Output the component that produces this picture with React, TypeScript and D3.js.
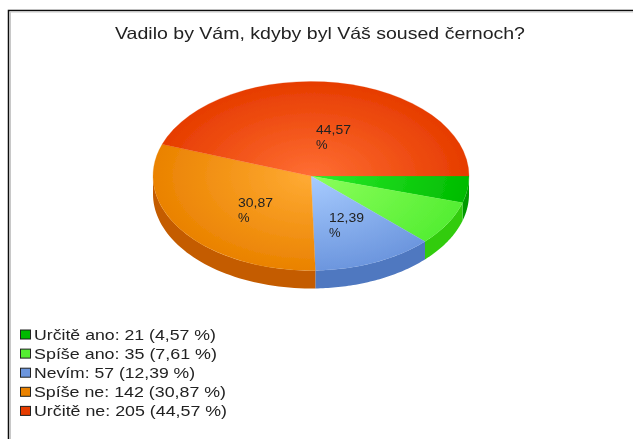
import React from "react";
import * as d3 from "d3";

const categories = ["Určitě ano", "Spíše ano", "Nevím", "Spíše ne", "Určitě ne"];
const counts = [21, 35, 57, 142, 205];
const percentLabels = ["4,57", "7,61", "12,39", "30,87", "44,57"];
const lightColors = ["#2cee2c", "#8cff5c", "#a8ccff", "#ffab34", "#ff6e34"];
const topColors = ["#00bb00", "#55ee33", "#6c96de", "#ea8200", "#e63c00"];
const sideColors = ["#009900", "#33cc11", "#4f78c0", "#c45c00", "#c03000"];
const title = "Vadilo by Vám, kdyby byl Váš soused černoch?";

const W = 633, H = 439;
const cx = 311, cy = 176, rx = 158, ry = 94.5, depth = 18;
const legendWidths = [182, 183, 161, 192, 193];

const pie = d3.pie<number>().sort(null).startAngle(Math.PI / 2).endAngle(Math.PI / 2 + 2 * Math.PI);
const arcs = pie(counts);
const arcGen = d3.arc<d3.PieArcDatum<number>>().innerRadius(0).outerRadius(rx);
const yScale = ry / rx;
// d3 angles run clockwise from 12 o'clock
const pt = (a: number, dy = 0): [number, number] => [Math.sin(a) * rx, -Math.cos(a) * ry + dy];
const line = d3.line();

function wallPath(start: number, end: number) {
  const s = Math.max(start, Math.PI / 2);
  const e = Math.min(end, 1.5 * Math.PI);
  if (e <= s) return null;
  const n = 48;
  const as = d3.range(n + 1).map((i) => s + ((e - s) * i) / n);
  const pts = [...as.map((a) => pt(a)), ...as.reverse().map((a) => pt(a, depth))];
  return line(pts) + "Z";
}

const labelPos: [number, number][] = [[0, 0], [0, 0], [329, 222], [238, 207], [316, 134]];

export default function App() {
  return (
    <svg width={W} height={H} style={{ position: "absolute", left: 0, top: 0, background: "#fff" }}
      fontFamily="'Liberation Sans', Arial, sans-serif">
      <defs>
        <filter id="soft" x="-5%" y="-5%" width="110%" height="110%">
          <feGaussianBlur stdDeviation="0.45" />
        </filter>
        {categories.map((_, i) => (
          <radialGradient key={i} id={`g${i}`} gradientUnits="userSpaceOnUse" cx={0} cy={0} r={rx}>
            <stop offset="0" stopColor={lightColors[i]} />
            <stop offset="1" stopColor={topColors[i]} />
          </radialGradient>
        ))}
      </defs>
      <g filter="url(#soft)">
        <path d={`M8.5 ${H}V10.5H${W}`} fill="none" stroke="#111" strokeWidth={1.5} />
        <path d={`M10.5 ${H}V12H${W}`} fill="none" stroke="#c8c8c8" strokeWidth={1} />
        <g transform={`translate(${cx},${cy})`}>
          {arcs.map((a, i) => {
            const d = wallPath(a.startAngle, a.endAngle);
            return d ? <path key={i} d={d} fill={sideColors[i]} /> : null;
          })}
          {arcs.map((a, i) => (
            <g key={i} transform={`scale(1,${yScale})`}>
              <path d={arcGen(a) ?? ""} fill={`url(#g${i})`} stroke={`url(#g${i})`} strokeWidth={0.3} />
            </g>
          ))}
        </g>
        {percentLabels.map((p, i) =>
          i < 2 ? null : (
            <text key={i} fontSize={13} fill="#222">
              <tspan x={labelPos[i][0]} y={labelPos[i][1]} textLength={35} lengthAdjust="spacingAndGlyphs">{p}</tspan>
              <tspan x={labelPos[i][0]} y={labelPos[i][1] + 15}>%</tspan>
            </text>
          )
        )}
        <text x={115} y={38.5} fontSize={16.5} fill="#222" textLength={410} lengthAdjust="spacingAndGlyphs">{title}</text>
        {categories.map((c, i) => {
          const y = 334.5 + i * 19.1;
          return (
            <g key={c}>
              <rect x={20.5} y={y - 4.5} width={10} height={9} fill={topColors[i]} stroke="#222" strokeWidth={1} />
              <text x={34} y={y + 5.5} fontSize={15} fill="#222" textLength={legendWidths[i]} lengthAdjust="spacingAndGlyphs">
                {`${c}: ${counts[i]} (${percentLabels[i]} %)`}
              </text>
            </g>
          );
        })}
      </g>
    </svg>
  );
}
